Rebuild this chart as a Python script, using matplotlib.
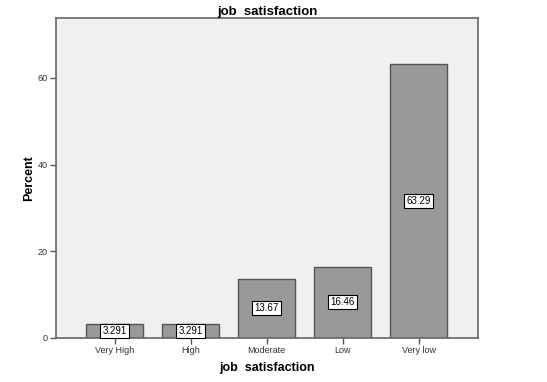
import matplotlib
matplotlib.use("Agg")
import matplotlib.pyplot as plt

categories = ["Very High", "High", "Moderate", "Low", "Very low"]
percent = [3.291, 3.291, 13.67, 16.46, 63.29]
value_labels = ["3.291", "3.291", "13.67", "16.46", "63.29"]
yticks = [0, 20, 40, 60]

plt.rcParams['font.family'] = ['Liberation Sans', 'DejaVu Sans']

fig = plt.figure(figsize=(5.47, 3.82), dpi=100)
fig.patch.set_facecolor('white')
ax = fig.add_axes([0.1024, 0.1152, 0.7716, 0.8378])
ax.set_facecolor('#f0f0f0')

x = list(range(len(categories)))
ax.bar(x, percent, width=0.75, color='#999999', edgecolor='#555555', linewidth=1.0, zorder=2)
for xi, v, lab in zip(x, percent, value_labels):
    ax.text(xi, v / 2, lab, ha='center', va='center', fontsize=7, color='black', zorder=3,
            bbox=dict(boxstyle='square,pad=0.22', facecolor='white', edgecolor='black', linewidth=0.8))

ax.set_xlim(-0.77, 4.78)
ax.set_ylim(0, 73.8)
ax.set_xticks(x)
ax.set_xticklabels(categories, fontsize=6.5, color='#333333')
ax.set_yticks(yticks)
ax.set_yticklabels([str(t) for t in yticks], fontsize=6.5, color='#333333')
ax.tick_params(direction='out', length=4, width=1, color='#555555', pad=2)
for s in ax.spines.values():
    s.set_color('#666666')
    s.set_linewidth(1.2)

ax.set_title("job  satisfaction", fontsize=9.5, fontweight='bold', pad=1.5)
ax.set_xlabel("job  satisfaction", fontsize=9, fontweight='bold', labelpad=5)
ax.set_ylabel("Percent", fontsize=9, fontweight='bold', labelpad=1.5)

fig.savefig("out.png", dpi=100)
